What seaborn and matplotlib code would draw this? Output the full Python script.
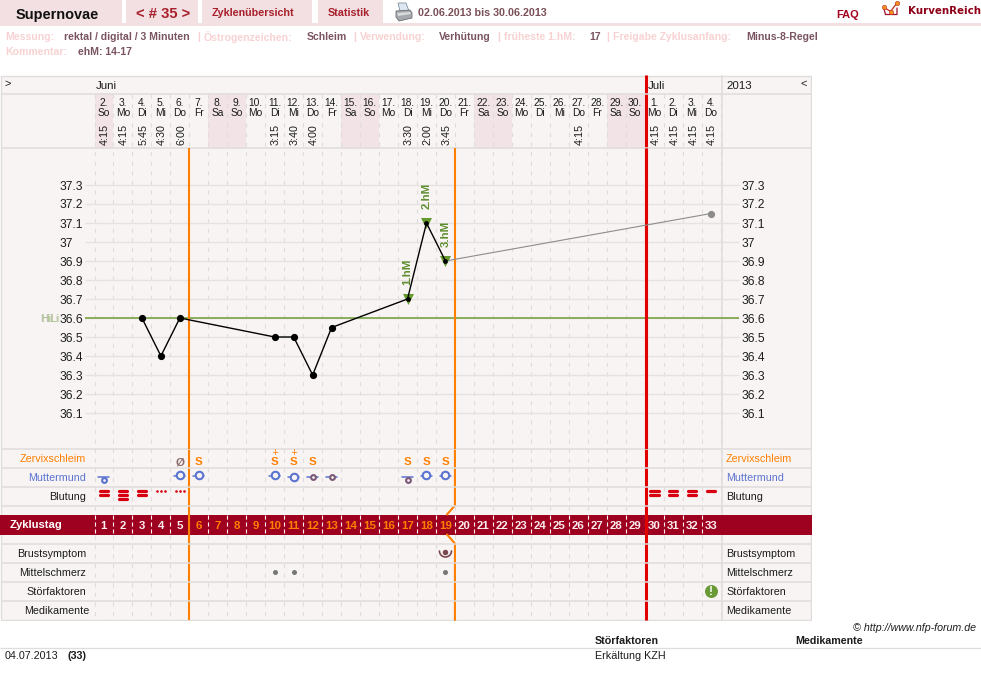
import matplotlib
matplotlib.use("Agg")
import matplotlib.pyplot as plt
import numpy as np
import pandas as pd
import seaborn as sns
from matplotlib.patches import Rectangle, Polygon

# ---- cycle data -----------------------------------------------------------
cycle_days = list(range(1, 34))
date_labels = [f"{d}." for d in range(2, 31)] + ["1.", "2.", "3.", "4."]
weekdays = ["So", "Mo", "Di", "Mi", "Do", "Fr", "Sa"] * 4 + ["So", "Mo", "Di", "Mi", "Do"]
weekend_days = [1, 7, 8, 14, 15, 21, 22, 28, 29]

time_days = [1, 2, 3, 4, 5, 10, 11, 12, 17, 18, 19, 26, 30, 31, 32, 33]
time_labels = ["4:15", "4:15", "5:45", "4:30", "6:00", "3:15", "3:40", "4:00",
               "3:30", "2:00", "3:45", "4:15", "4:15", "4:15", "4:15", "4:15"]

temp_days = [3, 4, 5, 10, 11, 12, 13, 17, 18, 19]
temp_values = [36.6, 36.4, 36.6, 36.5, 36.5, 36.3, 36.55, 36.7, 37.1, 36.9]
last_days = [19, 33]
last_values = [36.9, 37.15]
hm_days = [17, 18, 19]
hm_values = [36.7, 37.1, 36.9]
hm_labels = ["1.hM", "2.hM", "3.hM"]
scale_values = [37.3, 37.2, 37.1, 37.0, 36.9, 36.8, 36.7, 36.6, 36.5, 36.4, 36.3, 36.2, 36.1]
scale_labels = ["37.3", "37.2", "37.1", "37", "36.9", "36.8", "36.7", "36.6",
                "36.5", "36.4", "36.3", "36.2", "36.1"]
hili_value = 36.6

mucus_days = [5, 6, 10, 11, 12, 17, 18, 19]
mucus_values = ["Ø", "S", "S+", "S+", "S", "S", "S", "S"]
cervix_days = [1, 5, 6, 10, 11, 12, 13, 17, 18, 19]
cervix_position = ["tief", "hoch", "hoch", "hoch", "mittig", "mittig", "mittig", "tief", "hoch", "hoch"]
cervix_opening = ["zu", "auf", "auf", "auf", "auf", "halb", "halb", "halb", "auf", "auf"]
bleeding_days = [1, 2, 3, 4, 5, 30, 31, 32, 33]
bleeding_strength = [2, 3, 2, 0, 0, 2, 2, 2, 1]
pain_days = [10, 11, 19]
breast_days = [19]
disturbance_days = [33]

left_rows = ["Zervixschleim", "Muttermund", "Blutung", "Brustsymptom",
             "Mittelschmerz", "Störfaktoren", "Medikamente"]

# ---- page geometry and colours --------------------------------------------
W, H = 981, 679
COL = 18.97
X0 = 94.5
X1 = X0 + 33 * COL
TEMP_TOP, TEMP_BOTTOM = 148, 449
PX_PER_DEG = 190
HILI_PX = 318

PANEL = "#f9f4f4"
LINE = "#dfdcdc"
WEEKEND = "#f2e4e6"
TAB = "#f2e0e2"
DARKRED = "#a30020"
ORANGE = "#ff8000"
RED = "#e00000"
BLUE = "#5a74d0"
BROWN = "#7a5560"
GREEN = "#659a2f"
PINK = "#f8d2d2"
TEXT = "#1c1c1c"
MID = "center_baseline"


def fs(px):
    return px * 0.72


def day_at(px):
    return 0.5 + (px - X0) / COL


sns.set_theme(style="white")
plt.rcParams["font.family"] = ["Liberation Sans", "DejaVu Sans"]
plt.rcParams["lines.scale_dashes"] = False

fig = plt.figure(figsize=(W / 100, H / 100), dpi=100, facecolor="white")


def px_axes(x0, y0, x1, y1, z):
    ax = fig.add_axes([x0 / W, 1 - y1 / H, (x1 - x0) / W, (y1 - y0) / H], zorder=z)
    ax.patch.set_alpha(0)
    return ax


# ---- page furniture -------------------------------------------------------
page = px_axes(0, 0, W, H, 0)
page.set_xlim(0, W)
page.set_ylim(H, 0)
page.axis("off")

page.add_patch(Rectangle((0, 23), W, 2.5, color=TAB, lw=0))
for x0, x1 in [(0, 122), (126, 198), (202, 312), (318, 383)]:
    page.add_patch(Rectangle((x0, 0), x1 - x0, 23, color=TAB, lw=0))

page.text(16, 13, "Supernovae", fontsize=fs(14.5), fontweight="bold", color="#111111", va=MID)
page.text(136, 13, "< # 35 >", fontsize=fs(14.8), fontweight="bold", color="#a8202c", va=MID)
page.text(212, 12.5, "Zyklenübersicht", fontsize=fs(10.8), fontweight="bold", color="#a8202c", va=MID)
page.text(328, 12.5, "Statistik", fontsize=fs(10.8), fontweight="bold", color="#a8202c", va=MID)
page.text(418, 12.5, "02.06.2013 bis 30.06.2013", fontsize=fs(10.7), fontweight="bold", color="#7a5058", va=MID)
page.text(836, 14.5, "FAQ", fontsize=fs(11), fontweight="bold", color=DARKRED, va=MID)
page.text(908, 10.5, "KurvenReich", fontsize=fs(10.2), fontweight="bold", color="#8e0018", va=MID,
          family="DejaVu Sans")

# printer symbol
page.add_patch(Polygon([(398, 3), (406, 3), (409, 11), (400, 11)], closed=True, fc="#dfe8f2", ec="#7f8f9f", lw=0.6))
page.add_patch(Polygon([(396, 11), (410, 10), (412, 13), (412, 18), (399, 21), (396, 17)], closed=True,
                       fc="#a5a9ad", ec="#6d7175", lw=0.6))
page.add_patch(Polygon([(397, 13), (410, 12), (411, 14), (398, 16)], closed=True, fc="#d8dadc", lw=0))

# logo
page.plot([883.5, 885.5, 897, 897], [7, 14.5, 14.5, 8], color="#a01030", lw=0.9)
page.plot([883.5, 890.5, 897], [7, 11.5, 3], color="#c03020", lw=0.9)
page.plot([883.5, 890.5, 897], [7, 11.5, 3], ls="none", marker="o", ms=3.2, mfc="#f09020", mec="#c03020", mew=0.4)

meta_top = [(5, "Messung:", PINK), (64, "rektal / digital / 3 Minuten", BROWN), (197, "|", PINK),
            (204, "Östrogenzeichen:", PINK), (307, "Schleim", BROWN), (353, "|", PINK),
            (360, "Verwendung:", PINK), (439, "Verhütung", BROWN), (497, "|", PINK),
            (504, "früheste 1.hM:", PINK), (589, "17", BROWN), (606, "|", PINK),
            (613, "Freigabe Zyklusanfang:", PINK), (746, "Minus-8-Regel", BROWN)]
for x, label, colour in meta_top:
    page.text(x, 36, label, fontsize=fs(10.5), fontweight="bold", color=colour, va=MID)
page.text(5, 51, "Kommentar:", fontsize=fs(10.5), fontweight="bold", color=PINK, va=MID)
page.text(78, 51, "ehM: 14-17", fontsize=fs(10.5), fontweight="bold", color=BROWN, va=MID)

# footer
page.text(853, 627, "© http://www.nfp-forum.de", fontsize=fs(10.6), style="italic", color=TEXT, va=MID)
page.text(595, 640, "Störfaktoren", fontsize=fs(10.7), fontweight="bold", color=TEXT, va=MID)
page.text(795, 640, "Medikamente", fontsize=fs(10.6), fontweight="bold", color=TEXT, va=MID)
page.hlines(647.5, 0, W, color=LINE, lw=0.9)
page.text(5, 655, "04.07.2013", fontsize=fs(10.8), color=TEXT, va=MID)
page.text(68, 655, "(33)", fontsize=fs(10.8), fontweight="bold", color=TEXT, va=MID)
page.text(595, 655, "Erkältung KZH", fontsize=fs(10.8), color=TEXT, va=MID)

# ---- table: header, symptom rows and cycle-day band ------------------------
table = px_axes(0, 75, 812, 620.5, 1)
table.set_xlim(day_at(0), day_at(812))
table.set_ylim(620.5, 75)
table.axis("off")

table.add_patch(Rectangle((day_at(0.5), 75.5), (811 - 0.5) / COL, 544.5, fc=PANEL, ec=LINE, lw=1.0, zorder=0))
table.bar(weekend_days, 54, bottom=94, width=1.0, color=WEEKEND, linewidth=0, zorder=0.5)

edges = [day + 0.5 for day in [0] + cycle_days]
table.vlines(edges, 94, 620, color=LINE, lw=0.8, linestyles=(0, (3.0, 3.9)), zorder=1)
table.vlines(day_at(721.5), 75, 620, color=LINE, lw=1.1, zorder=1.2)

table.add_patch(Rectangle((day_at(0), 515), 811.5 / COL, 19.5, fc="#9e001f", lw=0, zorder=2))
table.vlines(edges[:-1], 515, 534, color="#fbeeee", lw=0.8, linestyles=(0, (3.0, 2.0)), zorder=3)

# fertile window borders and the start of the next cycle
table.vlines(5.5, 449, 620, color=ORANGE, lw=1.5, zorder=4)
table.plot([19.5, 19.5, 19.08], [449, 505.5, 514.5], color=ORANGE, lw=1.5, zorder=4)
table.plot([19.08, 19.5, 19.5], [534.5, 543.5, 620], color=ORANGE, lw=1.5, zorder=4)
table.vlines(29.55, 75, 620, color=RED, lw=2.2, zorder=4)

table.hlines([94, 148, 449, 468, 486.5, 505.5, 543.5, 562.5, 581.5, 600.5], day_at(0.5), day_at(811),
             color=LINE, lw=1.1, zorder=5)

table.text(day_at(8), 83, ">", fontsize=fs(11), color=TEXT, va=MID, ha="center")
table.text(day_at(96), 85, "Juni", fontsize=fs(11.5), color=TEXT, va=MID)
table.text(day_at(647.5), 85, "Juli", fontsize=fs(11.5), color=TEXT, va=MID, zorder=6)
table.text(day_at(726), 85, "2013", fontsize=fs(11.5), color=TEXT, va=MID)
table.text(day_at(804), 83, "<", fontsize=fs(11), color=TEXT, va=MID, ha="center")

for day, num, name in zip(cycle_days, date_labels, weekdays):
    table.text(day, 101.5, num, fontsize=fs(10.2), color=TEXT, ha="center", va=MID)
    table.text(day, 111.5, name, fontsize=fs(10.2), color=TEXT, ha="center", va=MID)
for day, label in zip(time_days, time_labels):
    table.text(day + 1.2 / COL, 134.5, label, fontsize=fs(10.8), color=TEXT, rotation=90, ha="center", va="center")

row_y = dict(zip(left_rows, [458, 477, 496, 553, 572, 591, 610]))
row_colours = {"Zervixschleim": ORANGE, "Muttermund": BLUE}
for name in left_rows:
    right = 89 if name == "Medikamente" else 86
    colour = row_colours.get(name, TEXT)
    table.text(day_at(right), row_y[name], name, fontsize=fs(10.8), color=colour, ha="right", va=MID, zorder=6)
    table.text(day_at(726), row_y[name], name, fontsize=fs(10.8), color=colour, ha="left", va=MID, zorder=6)

table.text(day_at(10), 524.5, "Zyklustag", fontsize=fs(11.2), fontweight="bold", color="white", va=MID, zorder=6)
for day in cycle_days:
    colour = ORANGE if 6 <= day <= 19 else "#fbeeee"
    table.text(day, 524.8, str(day), fontsize=fs(11.5), fontweight="bold", color=colour,
               ha="center", va=MID, zorder=6)

# cervical mucus
for day, value in zip(mucus_days, mucus_values):
    colour = "#8d6a6a" if value == "Ø" else ORANGE
    table.text(day, 461, value[0], fontsize=fs(11.5), fontweight="bold", color=colour,
               ha="center", va=MID, zorder=6)
    if value.endswith("+"):
        table.text(day, 451.5, "+", fontsize=fs(8.5), family="DejaVu Sans", color=ORANGE,
                   ha="center", va=MID, zorder=6)

# cervix position and opening
height_of = {"hoch": 475, "mittig": 476.5, "tief": 480}
for day, position, opening in zip(cervix_days, cervix_position, cervix_opening):
    y = height_of[position]
    wing_y = y - 3.3 if position == "tief" else y + 0.8
    half = 5.5 / COL
    table.plot([day - half, day + half], [wing_y, wing_y], color=BLUE, lw=1.1, zorder=6)
    ring = BLUE if opening != "halb" else "#7a5a78"
    size = 7.5 if opening == "auf" else 4.8
    table.plot([day], [y], marker="o", ms=fs(size), mfc=PANEL, mec=ring, mew=1.5, ls="none", zorder=7)

# bleeding: bars for strength, dots for spotting
bar_offsets = [-5.2, -0.9, 3.4]
for day, strength in zip(bleeding_days, bleeding_strength):
    half = 4.4 / COL
    for offset in bar_offsets[:strength]:
        table.plot([day - half, day + half], [496 + offset] * 2, color="#d80010", lw=2.3,
                   solid_capstyle="round", zorder=6)
    if strength == 0:
        spot_x = [day - 4 / COL, day, day + 4 / COL]
        table.plot(spot_x, [491.3] * 3, ls="none", marker="o", ms=1.9, color="#d80010", mew=0, zorder=6)

# breast symptom, mittelschmerz, disturbance
sns.scatterplot(x=pain_days, y=[row_y["Mittelschmerz"] - 0.5] * len(pain_days), ax=table, color="#777777",
                s=13, linewidth=0, zorder=6, legend=False)
table.set_xlabel("")
table.set_ylabel("")
sweep = np.linspace(0, np.pi, 25)
for day in breast_days:
    table.plot(day + 6 * np.cos(sweep) / COL, 551 + 6 * np.sin(sweep), color="#7a4a50", lw=1.2, zorder=6)
    table.plot([day], [551.5], marker="o", ms=fs(5.5), color="#7a4a50", mew=0, ls="none", zorder=6)
for day in disturbance_days:
    table.plot([day], [590.5], marker="o", ms=fs(13), color="#6a9a35", mew=0, ls="none", zorder=6)
    table.text(day, 590.5, "!", fontsize=fs(12), fontweight="bold", color="white", ha="center",
               va="center_baseline", zorder=7)

# ---- temperature curve ----------------------------------------------------
temp = px_axes(X0, TEMP_TOP, X1, TEMP_BOTTOM, 2)
temp.set_xlim(0.5, 33.5)
temp.set_ylim(hili_value - (TEMP_BOTTOM - HILI_PX) / PX_PER_DEG, hili_value + (HILI_PX - TEMP_TOP) / PX_PER_DEG)
sns.despine(ax=temp, left=True, bottom=True)
temp.set_xticks([])
temp.set_yticks(scale_values, scale_labels)
temp.tick_params(axis="y", length=0, pad=(X0 - 60) * 0.72, labelsize=fs(12), labelcolor=TEXT)
for tick in temp.get_yticklabels():
    tick.set_ha("left")
right_scale = temp.secondary_yaxis("right")
right_scale.set_yticks(scale_values, scale_labels)
right_scale.tick_params(length=0, pad=(741 - X1) * 0.72, labelsize=fs(12), labelcolor=TEXT)
right_scale.spines["right"].set_visible(False)

temp.hlines(scale_values, day_at(85), day_at(739), color="#e6e2e2", lw=1.0, clip_on=False, zorder=1)
temp.hlines(hili_value, day_at(85), day_at(739), color="#6f9e35", lw=1.1, clip_on=False, zorder=1.5)
temp.text(day_at(40), hili_value, "HiLi", fontsize=fs(10.5), color="#b9b9b9", va=MID, clip_on=False)
temp.text(day_at(41.5), hili_value, "HiLi", fontsize=fs(10.5), color="#9cc070", alpha=0.75, va=MID, clip_on=False)

bottom, top = temp.get_ylim()
temp.vlines([5.5, 19.5], bottom, top, color=ORANGE, lw=1.5, zorder=2)
temp.vlines(29.55, bottom, top, color=RED, lw=2.2, zorder=2)

sns.lineplot(x=last_days, y=last_values, ax=temp, color="#8c8c8c", lw=0.8, errorbar=None, legend=False, zorder=3)
sns.scatterplot(x=last_days[1:], y=last_values[1:], ax=temp, color="#8c8c8c", s=27, linewidth=0, legend=False, zorder=3)
sns.scatterplot(x=hm_days, y=hm_values, ax=temp, marker="v", color=GREEN, s=63, linewidth=0, legend=False, zorder=4)

curve = pd.DataFrame({"Tag": temp_days, "Temperatur": temp_values})
sns.lineplot(data=curve, x="Tag", y="Temperatur", ax=temp, color="black", lw=1.0, errorbar=None, legend=False, zorder=5)
plain = curve[~curve["Tag"].isin(hm_days)]
sns.scatterplot(data=plain, x="Tag", y="Temperatur", ax=temp, color="black", s=27, linewidth=0, legend=False, zorder=6)
sns.scatterplot(x=hm_days, y=hm_values, ax=temp, color="black", s=12, linewidth=0, legend=False, zorder=6)
temp.set_xlabel("")
temp.set_ylabel("")

for day, value, label in zip(hm_days, hm_values, hm_labels):
    temp.annotate(label, (day, value), xytext=(0, 10), textcoords="offset points", rotation=90, ha="center",
                  va="bottom", fontsize=fs(11.5), fontweight="bold", color="#5f8f30", zorder=7)

fig.savefig("out.png", dpi=100, facecolor="white")
